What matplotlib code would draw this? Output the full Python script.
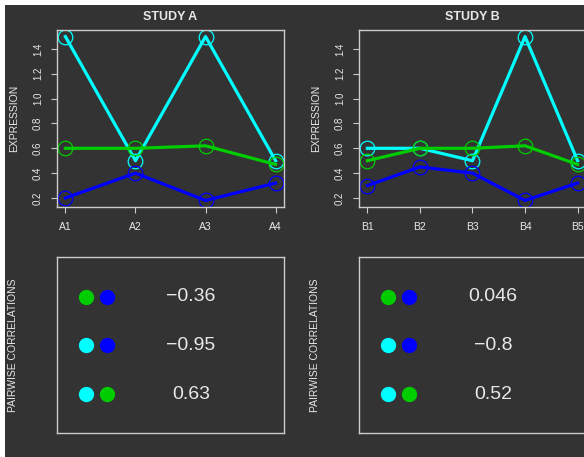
import matplotlib
matplotlib.use("Agg")
import matplotlib.pyplot as plt
from matplotlib.patches import Rectangle

plt.rcParams['font.family'] = ['Liberation Sans', 'DejaVu Sans']

# data
cyan_a = [1.5, 0.5, 1.5, 0.5]
green_a = [0.6, 0.6, 0.62, 0.47]
blue_a = [0.2, 0.4, 0.18, 0.32]
labels_a = ['A1', 'A2', 'A3', 'A4']

cyan_b = [0.6, 0.6, 0.5, 1.5, 0.5]
green_b = [0.5, 0.6, 0.6, 0.62, 0.47]
blue_b = [0.3, 0.45, 0.4, 0.18, 0.32]
labels_b = ['B1', 'B2', 'B3', 'B4', 'B5']

pairs = [('green', 'blue'), ('cyan', 'blue'), ('cyan', 'green')]
corr_a = ['\u22120.36', '\u22120.95', '0.63']
corr_b = ['0.046', '\u22120.8', '0.52']

cols = {'cyan': '#00FFFF', 'green': '#00CD00', 'blue': '#0000FF'}
bg = '#333333'
fg = '#E8E8E8'
edge = '#CCCCCC'

W, H = 584, 457
fig = plt.figure(figsize=(W / 100, H / 100), dpi=100, facecolor='white')
fig.patches.append(Rectangle((5 / W, 0), 1, (H - 5) / H, transform=fig.transFigure,
                             facecolor=bg, edgecolor='none', zorder=-10))


def px_axes(left, top, width, height):
    ax = fig.add_axes([left / W, 1 - (top + height) / H, width / W, height / H])
    ax.set_facecolor(bg)
    for s in ax.spines.values():
        s.set_color(edge)
        s.set_linewidth(1.0)
    return ax


def line_panel(left, title, labels, cyan, green, blue):
    ax = px_axes(left, 30, 227, 177)
    x = list(range(1, len(labels) + 1))
    for vals, c in [(cyan, 'cyan'), (blue, 'blue'), (green, 'green')]:
        ax.plot(x, vals, color=cols[c], lw=2.3, marker='o', ms=10.5,
                mfc='none', mec=cols[c], mew=0.9)
    ax.margins(x=0.04, y=0.04)
    ax.set_xticks(x)
    ax.set_xticklabels(labels)
    ax.set_yticks([0.2, 0.4, 0.6, 0.8, 1.0, 1.2, 1.4])
    ax.set_yticklabels(['0.2', '0.4', '0.6', '0.8', '1.0', '1.2', '1.4'], rotation=90, va='center')
    ax.tick_params(axis='x', colors=edge, labelcolor=fg, labelsize=7.5, length=4.5, pad=6.5)
    ax.tick_params(axis='y', colors=edge, labelcolor=fg, labelsize=7, length=4.5, pad=5.5)
    fig.text((left + 113.5) / W, 1 - 17 / H, title, color=fg, fontsize=9,
             fontweight='bold', ha='center', va='center')
    fig.text((left - 43) / W, 1 - 118.5 / H, 'EXPRESSION', color=fg, fontsize=7.5,
             rotation=90, ha='center', va='center')


def corr_panel(left, values):
    ax = px_axes(left, 257, 227, 176)
    ax.set_xlim(0, 1)
    ax.set_ylim(0.2, 3.82)
    ax.set_xticks([])
    ax.set_yticks([])
    rows = [3, 2, 1]
    for r, (c1, c2), v in zip(rows, pairs, values):
        ax.plot([0.128], [r], 'o', ms=10, color=cols[c1])
        ax.plot([0.22], [r], 'o', ms=10, color=cols[c2])
        ax.text(0.59, r, v, color=fg, fontsize=14, ha='center', va='center')
    fig.text((left - 44) / W, 1 - 345 / H, 'PAIRWISE CORRELATIONS', color=fg, fontsize=7.5,
             rotation=90, ha='center', va='center')


line_panel(57, 'STUDY A', labels_a, cyan_a, green_a, blue_a)
line_panel(359, 'STUDY B', labels_b, cyan_b, green_b, blue_b)
corr_panel(57, corr_a)
corr_panel(359, corr_b)

fig.savefig('out.png', dpi=100, facecolor='white')
